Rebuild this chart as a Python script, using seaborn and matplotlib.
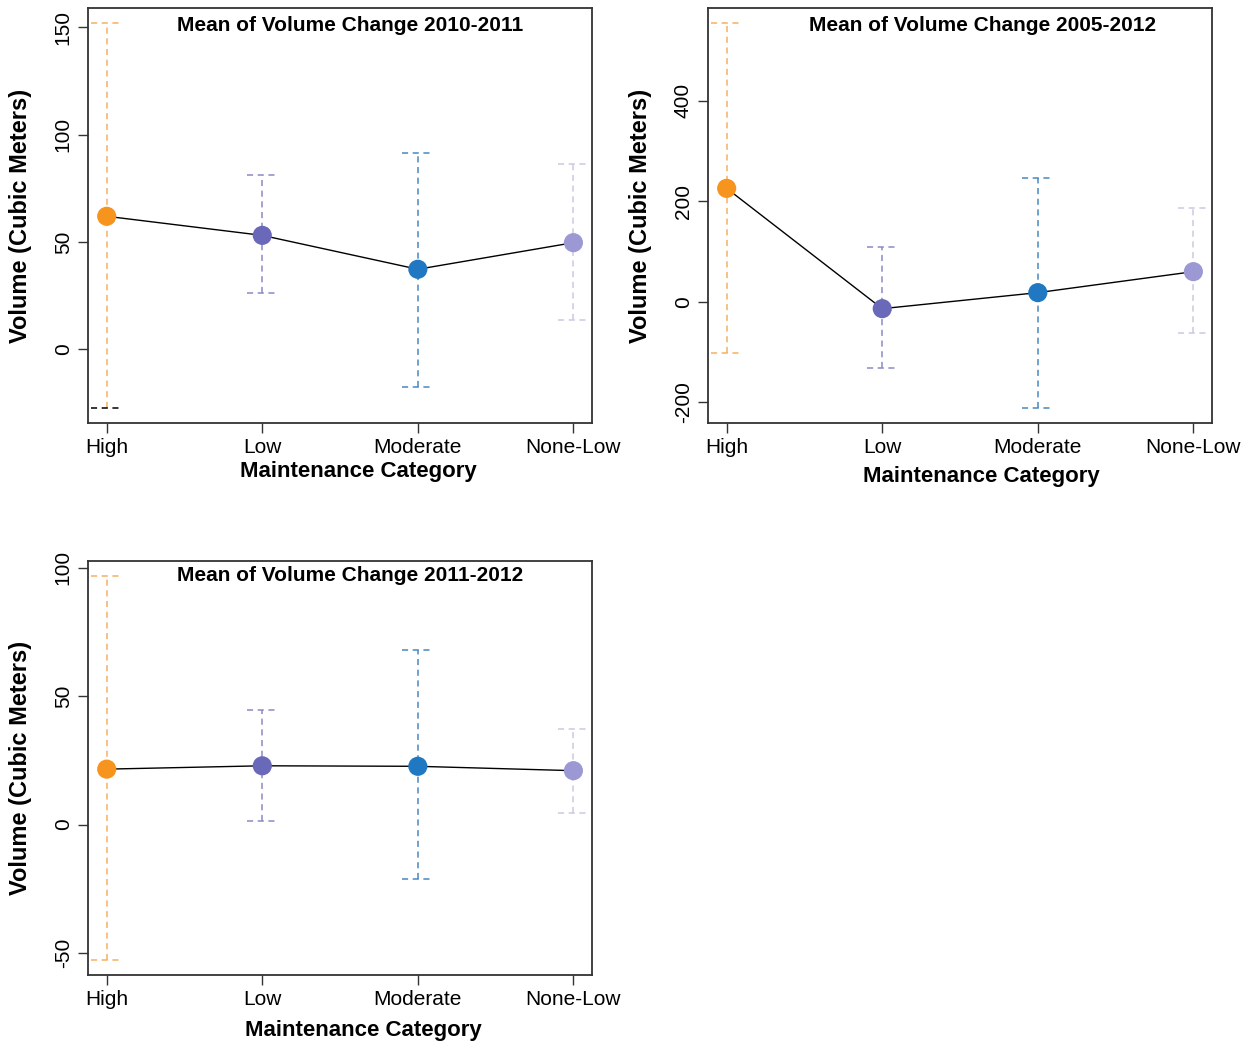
import pandas as pd
import seaborn as sns
import matplotlib.pyplot as plt

# categorias e valores
categorias = ['High', 'Low', 'Moderate', 'None-Low']

media_2010_2011 = [62.0, 53.1, 37.3, 49.7]
inferior_2010_2011 = [-27.2, 26.1, -17.4, 13.7]
superior_2010_2011 = [151.9, 81.4, 91.7, 86.2]

media_2005_2012 = [225.5, -14.0, 17.9, 59.7]
inferior_2005_2012 = [-102.9, -133.0, -211.0, -63.0]
superior_2005_2012 = [553.8, 109.5, 245.4, 185.7]

media_2011_2012 = [21.6, 22.9, 22.7, 21.0]
inferior_2011_2012 = [-52.6, 1.3, -21.1, 4.5]
superior_2011_2012 = [96.7, 44.7, 68.1, 37.4]

cores_ponto = ['#F7941D', '#6A68B8', '#1F78C1', '#9B98D4']
cores_barra = ['#F5B060', '#8C8AC4', '#4A88BE', '#CBC9E0']

sns.set_style('white')
plt.rcParams['font.family'] = ['Liberation Sans', 'DejaVu Sans']
plt.rcParams['axes.unicode_minus'] = False  # hifen simples como no original
plt.rcParams['text.color'] = 'black'
plt.rcParams['axes.labelcolor'] = 'black'
plt.rcParams['xtick.color'] = 'black'
plt.rcParams['ytick.color'] = 'black'

fig = plt.figure(figsize=(12.56, 10.46), dpi=100)

paineis = [
    # posicao do eixo, titulo, dados, ticks, posicao titulo x/y, posicao xlabel
    ([0.0701, 0.5956, 0.4013, 0.3967], 'Mean of Volume Change 2010-2011',
     media_2010_2011, inferior_2010_2011, superior_2010_2011, [0, 50, 100, 150],
     (0.52, 0.957), (0.536, -0.118), 'black'),
    ([0.5637, 0.5956, 0.4013, 0.3967], 'Mean of Volume Change 2005-2012',
     media_2005_2012, inferior_2005_2012, superior_2005_2012, [-200, 0, 200, 400],
     (0.544, 0.957), (0.542, -0.128), cores_barra[0]),
    ([0.0701, 0.0679, 0.4013, 0.3958], 'Mean of Volume Change 2011-2012',
     media_2011_2012, inferior_2011_2012, superior_2011_2012, [-50, 0, 50, 100],
     (0.52, 0.966), (0.547, -0.135), cores_barra[0]),
]

for pos, titulo, media, inf, sup, ticks, pos_tit, pos_xl, cor_cap_high in paineis:
    ax = fig.add_axes(pos)
    df = pd.DataFrame({'categoria': categorias, 'media': media, 'inf': inf, 'sup': sup})

    # barras de erro tracejadas
    for i, row in df.iterrows():
        ax.vlines(i, row['inf'], row['sup'], colors=cores_barra[i],
                  linestyles=(0, (4, 3)), linewidth=1.1, zorder=1)
        ax.hlines(row['sup'], i - 0.1, i + 0.1, colors=cores_barra[i],
                  linestyles=(0, (4, 3)), linewidth=1.1, zorder=1)
        cor_inf = cor_cap_high if i == 0 else cores_barra[i]
        ax.hlines(row['inf'], i - 0.1, i + 0.1, colors=cor_inf,
                  linestyles=(0, (4, 3)), linewidth=1.1, zorder=1)

    sns.lineplot(data=df, x='categoria', y='media', color='black', linewidth=1,
                 sort=False, ax=ax, zorder=2)
    sns.scatterplot(data=df, x='categoria', y='media', hue='categoria',
                    palette=cores_ponto, s=190, linewidth=0, legend=False,
                    ax=ax, zorder=3)

    lo, hi = min(inf), max(sup)
    pad = (hi - lo) * 0.04
    ax.set_ylim(lo - pad, hi + pad)
    ax.set_xlim(-0.12, 3.12)
    ax.set_yticks(ticks)
    ax.set_xticks(range(len(categorias)))
    ax.set_xticklabels(categorias)

    ax.tick_params(axis='both', direction='out', length=7, width=1, color='#333333',
                   labelsize=15, labelcolor='black', left=True, bottom=True, pad=4)
    ax.tick_params(axis='y', labelrotation=90)
    for lab in ax.get_yticklabels():
        lab.set_va('center')

    for sp in ax.spines.values():
        sp.set_color('#333333')
        sp.set_linewidth(1.3)

    ax.text(pos_tit[0], pos_tit[1], titulo, transform=ax.transAxes, ha='center',
            va='center', fontsize=15, fontweight='bold', color='black')

    ax.set_xlabel('Maintenance Category', fontsize=16, fontweight='bold', color='black')
    ax.xaxis.set_label_coords(pos_xl[0], pos_xl[1])
    ax.xaxis.label.set_va('center')
    ax.set_ylabel('Volume (Cubic Meters)', fontsize=17, fontweight='bold', color='black')
    ax.yaxis.set_label_coords(-68 / 504, 0.5)
    ax.yaxis.label.set_va('center')

plt.savefig('out.png', dpi=100)
